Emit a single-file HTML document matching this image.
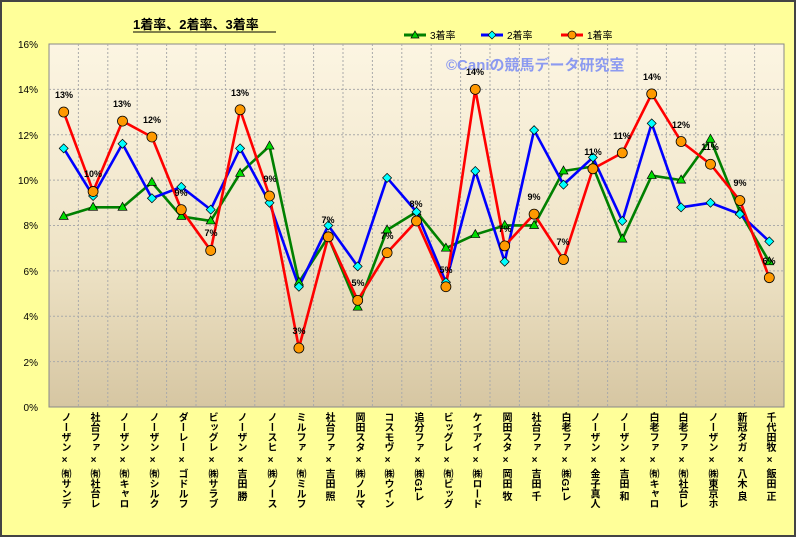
<!DOCTYPE html>
<html><head><meta charset="utf-8"><style>
body{margin:0;width:796px;height:537px;overflow:hidden;background:#fff}
#f{position:absolute;left:0;top:0;width:792px;height:533px;background:#FFFF99;border:2px solid #444}
.c{position:absolute;top:412px;writing-mode:vertical-rl;font:bold 10px "Liberation Sans","Noto Sans CJK JP",sans-serif;color:#000;width:14px;line-height:14px;white-space:nowrap}
svg{position:absolute;left:0;top:0}
</style></head><body>
<div id="f"></div>
<svg width="796" height="537" font-family="Liberation Sans, Noto Sans CJK JP, sans-serif">
<defs><linearGradient id="g" x1="0" y1="0" x2="0" y2="1"><stop offset="0" stop-color="#FCF5E2"/><stop offset="0.6" stop-color="#EEE3C6"/><stop offset="1" stop-color="#D6C6A2"/></linearGradient></defs>
<rect x="49" y="44" width="735" height="363" fill="url(#g)" stroke="#888" stroke-width="1"/>
<g id="grid" stroke="#aaa" stroke-dasharray="2,2" stroke-width="1"></g>
<text x="133" y="29" font-size="13" font-weight="bold">1着率、2着率、3着率</text>
<line x1="133" y1="32" x2="276" y2="32" stroke="#000"/>
<g font-size="10" fill="#000">
<line x1="404" y1="35" x2="426" y2="35" stroke="#008000" stroke-width="3"/><polygon points="415,31 419,38 411,38" fill="#0c0" stroke="#000" stroke-width=".7"/><text x="430" y="39">3着率</text>
<line x1="481" y1="35" x2="503" y2="35" stroke="#0000ff" stroke-width="3"/><polygon points="492,31 496,35 492,39 488,35" fill="#0ff" stroke="#000" stroke-width=".7"/><text x="507" y="39">2着率</text>
<line x1="561" y1="35" x2="583" y2="35" stroke="#ff0000" stroke-width="3"/><circle cx="572" cy="35" r="4" fill="#f90" stroke="#000" stroke-width=".7"/><text x="587" y="39">1着率</text>
</g>
<text x="446" y="70" font-size="15" font-weight="bold" fill="#8C9AF0">©Caniの競馬データ研究室</text>
<g font-size="10" text-anchor="end" fill="#000">
<text x="38" y="48">16%</text><text x="38" y="93">14%</text><text x="38" y="139">12%</text><text x="38" y="184">10%</text><text x="38" y="229">8%</text><text x="38" y="275">6%</text><text x="38" y="320">4%</text><text x="38" y="366">2%</text><text x="38" y="411">0%</text>
</g>
<g id="s"></g>
<g font-size="9" font-weight="bold" text-anchor="middle" fill="#000">
<text x="64" y="98">13%</text><text x="93" y="177">10%</text><text x="122" y="107">13%</text><text x="152" y="123">12%</text><text x="181" y="196">9%</text><text x="211" y="236">7%</text><text x="240" y="96">13%</text><text x="270" y="182">9%</text><text x="299" y="334">3%</text><text x="328" y="223">7%</text><text x="358" y="286">5%</text><text x="387" y="239">7%</text><text x="416" y="207">8%</text><text x="446" y="273">5%</text><text x="475" y="75">14%</text><text x="505" y="232">7%</text><text x="534" y="200">9%</text><text x="563" y="245">7%</text><text x="593" y="155">11%</text><text x="622" y="139">11%</text><text x="652" y="80">14%</text><text x="681" y="128">12%</text><text x="710" y="150">11%</text><text x="740" y="186">9%</text><text x="769" y="264">6%</text>
</g>
</svg>
<div class="c" style="left:57px">ノーザン × ㈲サンデ</div>
<div class="c" style="left:86px">社台ファ × ㈲社台レ</div>
<div class="c" style="left:115px">ノーザン × ㈲キャロ</div>
<div class="c" style="left:145px">ノーザン × ㈲シルク</div>
<div class="c" style="left:174px">ダーレー × ゴドルフ</div>
<div class="c" style="left:204px">ビッグレ × ㈱サラブ</div>
<div class="c" style="left:233px">ノーザン × 吉田 勝</div>
<div class="c" style="left:263px">ノースヒ × ㈱ノース</div>
<div class="c" style="left:292px">ミルファ × ㈲ミルフ</div>
<div class="c" style="left:321px">社台ファ × 吉田 照</div>
<div class="c" style="left:351px">岡田スタ × ㈱ノルマ</div>
<div class="c" style="left:380px">コスモヴ × ㈱ウイン</div>
<div class="c" style="left:410px">追分ファ × ㈱G1レ</div>
<div class="c" style="left:439px">ビッグレ × ㈲ビッグ</div>
<div class="c" style="left:468px">ケイアイ × ㈱ロード</div>
<div class="c" style="left:498px">岡田スタ × 岡田 牧</div>
<div class="c" style="left:527px">社台ファ × 吉田 千</div>
<div class="c" style="left:557px">白老ファ × ㈱G1レ</div>
<div class="c" style="left:586px">ノーザン × 金子真人</div>
<div class="c" style="left:615px">ノーザン × 吉田 和</div>
<div class="c" style="left:645px">白老ファ × ㈲キャロ</div>
<div class="c" style="left:674px">白老ファ × ㈲社台レ</div>
<div class="c" style="left:704px">ノーザン × ㈱東京ホ</div>
<div class="c" style="left:733px">新冠タガ × 八木 良</div>
<div class="c" style="left:762px">千代田牧 × 飯田 正</div>
<script>
var NS="http://www.w3.org/2000/svg";
function el(t,a,p){var e=document.createElementNS(NS,t);for(var k in a)e.setAttribute(k,a[k]);p.appendChild(e);return e;}
var gr=document.getElementById('grid');
for(var i=1;i<25;i++){var x=49+29.4*i;el('line',{x1:x,y1:44,x2:x,y2:407},gr);}
for(var j=1;j<8;j++){var y=407-j*45.375;el('line',{x1:49,y1:y,x2:784,y2:y},gr);}
var R=[13.0,9.5,12.6,11.9,8.7,6.9,13.1,9.3,2.6,7.5,4.7,6.8,8.2,5.3,14.0,7.1,8.5,6.5,10.5,11.2,13.8,11.7,10.7,9.1,5.7];
var B=[11.4,9.3,11.6,9.2,9.7,8.7,11.4,9.0,5.3,8.0,6.2,10.1,8.6,5.5,10.4,6.4,12.2,9.8,11.0,8.2,12.5,8.8,9.0,8.5,7.3];
var G=[8.4,8.8,8.8,9.9,8.4,8.2,10.3,11.5,5.5,7.5,4.4,7.8,8.6,7.0,7.6,8.0,8.0,10.4,10.6,7.4,10.2,10.0,11.8,8.6,6.4];
var s=document.getElementById('s');
function X(i){return 63.7+29.4*i;} function Y(v){return 407-v*22.69;}
function line(d,c){el('polyline',{points:d.map(function(v,i){return X(i)+','+Y(v)}).join(' '),fill:'none',stroke:c,'stroke-width':2.6,'stroke-linejoin':'round'},s);}
line(G,'#008000');line(B,'#0000ff');line(R,'#ff0000');
G.forEach(function(v,i){var x=X(i),y=Y(v);el('polygon',{points:x+','+(y-5)+' '+(x+4.5)+','+(y+3)+' '+(x-4.5)+','+(y+3),fill:'#00dd00',stroke:'#000','stroke-width':.7},s);});
B.forEach(function(v,i){var x=X(i),y=Y(v);el('polygon',{points:x+','+(y-4.5)+' '+(x+4.5)+','+y+' '+x+','+(y+4.5)+' '+(x-4.5)+','+y,fill:'#00ffff',stroke:'#000','stroke-width':.7},s);});
R.forEach(function(v,i){el('circle',{cx:X(i),cy:Y(v),r:5,fill:'#ff9900',stroke:'#000','stroke-width':.8},s);});
</script>
</body></html>
